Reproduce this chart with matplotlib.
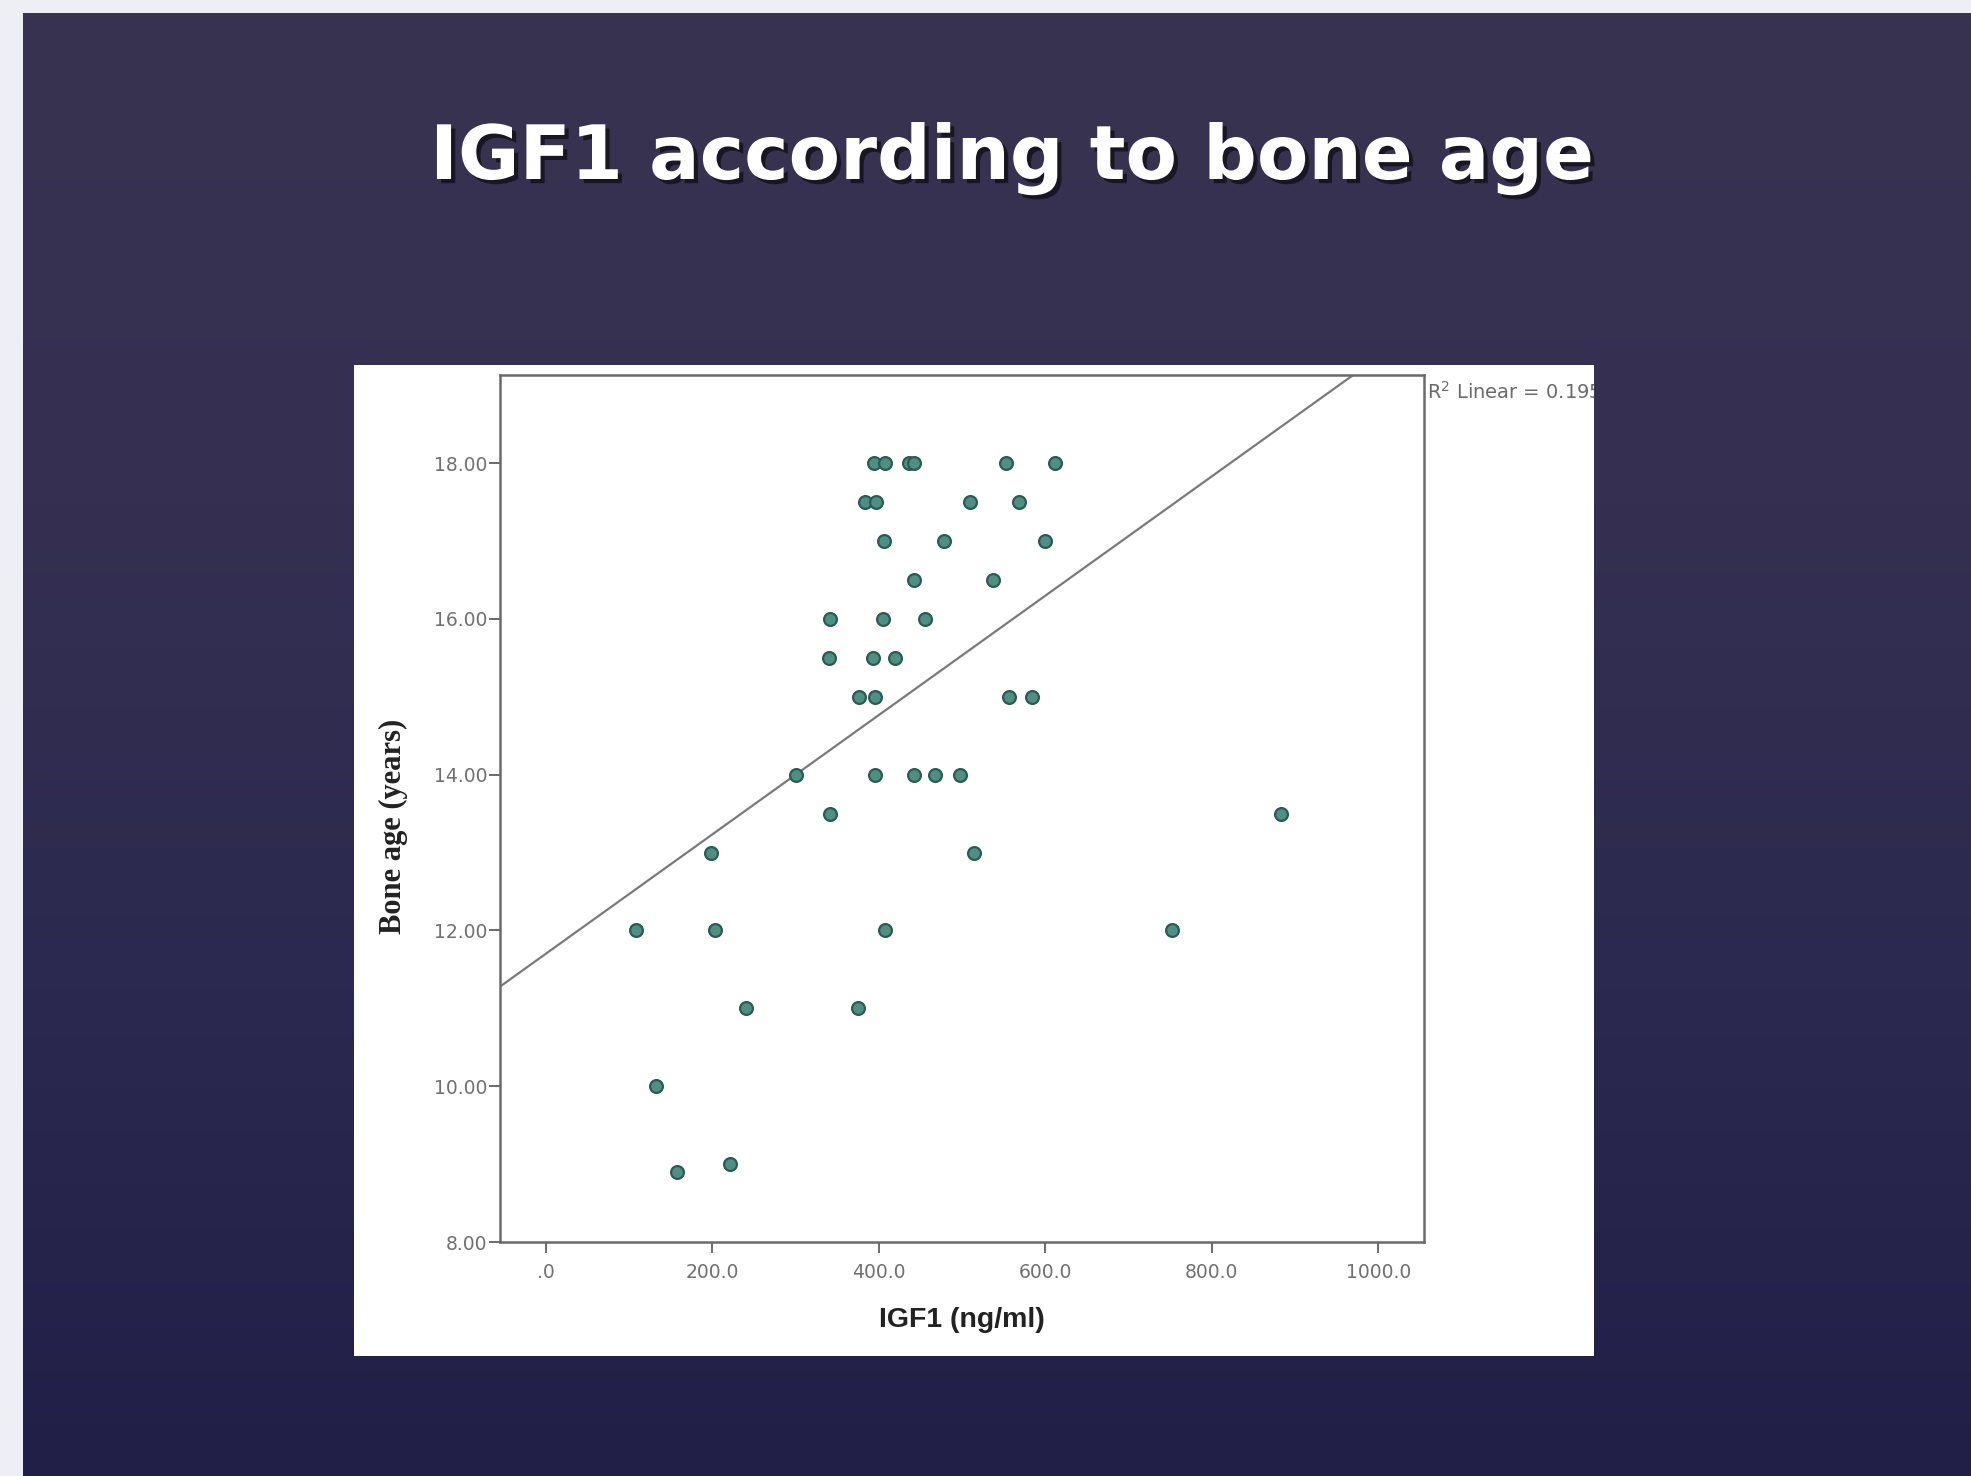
import numpy as np
import matplotlib
matplotlib.use("Agg")
import matplotlib.pyplot as plt
from matplotlib import patheffects
from matplotlib.colors import LinearSegmentedColormap
from matplotlib.patches import Rectangle

# ---------------- data ----------------
title = "IGF1 according to bone age"
x_label = "IGF1 (ng/ml)"
y_label = "Bone age (years)"
r2_label = "R$^2$ Linear = 0.195"

igf1 = [394, 407, 436, 442, 553, 612,
        383, 397, 510, 568,
        406, 478, 600,
        442, 537,
        342, 405, 455,
        340, 393, 420,
        376, 395, 556, 584,
        300, 396, 442, 467, 498,
        342, 883,
        198, 515,
        108, 203, 408, 752,
        241, 375,
        133,
        221,
        158]
bone_age = [18.0, 18.0, 18.0, 18.0, 18.0, 18.0,
            17.5, 17.5, 17.5, 17.5,
            17.0, 17.0, 17.0,
            16.5, 16.5,
            16.0, 16.0, 16.0,
            15.5, 15.5, 15.5,
            15.0, 15.0, 15.0, 15.0,
            14.0, 14.0, 14.0, 14.0, 14.0,
            13.5, 13.5,
            13.0, 13.0,
            12.0, 12.0, 12.0, 12.0,
            11.0, 11.0,
            10.0,
            9.0,
            8.9]

fit_intercept = 11.70
fit_slope = 0.00766

x_ticks = [0, 200, 400, 600, 800, 1000]
x_tick_labels = [".0", "200.0", "400.0", "600.0", "800.0", "1000.0"]
y_ticks = [8, 10, 12, 14, 16, 18]
y_tick_labels = ["8.00", "10.00", "12.00", "14.00", "16.00", "18.00"]

# ---------------- figure ----------------
W, H = 1971, 1476
fig = plt.figure(figsize=(W / 100, H / 100), dpi=100, facecolor="#eeeff5")

# slide background (gradient)
bg = fig.add_axes([23 / W, 0, 1 - 23 / W, 1 - 13 / H])
bg.set_axis_off()
cmap = LinearSegmentedColormap.from_list(
    "slide", ["#38334f", "#353052", "#2b294f", "#211f47"])
grad = np.linspace(0, 1, 256).reshape(-1, 1)
bg.imshow(grad, aspect="auto", cmap=cmap, extent=[0, 1, 0, 1], origin="upper")
bg.set_xlim(0, 1)
bg.set_ylim(0, 1)

# title
fig.text(1012 / W, 1 - 179 / H, title, ha="center", va="baseline",
         color="white", fontsize=54, fontweight="bold",
         family=["DejaVu Sans"],
         path_effects=[patheffects.withSimplePatchShadow(
             offset=(3, -3), shadow_rgbFace="black", alpha=0.55)])

# white chart panel
pl, pr, pt, pb = 354, 1594, 365, 1356
panel = Rectangle((pl / W, 1 - pb / H), (pr - pl) / W, (pb - pt) / H,
                  transform=fig.transFigure, facecolor="white",
                  edgecolor="none", zorder=1)
fig.patches.append(panel)

# plotting axes
al, ar, at, ab = 500, 1424, 375, 1242
ax = fig.add_axes([al / W, 1 - ab / H, (ar - al) / W, (ab - at) / H])
ax.set_facecolor("white")
ax.set_zorder(2)

ax.scatter(igf1, bone_age, s=85, facecolor="#4f8f82", edgecolor="#2c5a54",
           linewidth=1.6, zorder=3)
ax.axline((0, fit_intercept), slope=fit_slope, color="#7a7a7a",
          linewidth=1.6, zorder=2)

ax.set_xlim(-55, 1055)
ax.set_ylim(8, 19.13)
ax.set_xticks(x_ticks)
ax.set_xticklabels(x_tick_labels)
ax.set_yticks(y_ticks)
ax.set_yticklabels(y_tick_labels)

for sp in ax.spines.values():
    sp.set_color("#6a6a6a")
    sp.set_linewidth(1.8)

ax.tick_params(axis="both", direction="out", length=8, width=1.4,
               color="#6a6a6a", labelcolor="#707070", labelsize=13.5)
ax.tick_params(axis="y", pad=1)
ax.tick_params(axis="x", pad=7)
for lab in ax.get_xticklabels() + ax.get_yticklabels():
    lab.set_family(["DejaVu Sans"])

ax.set_xlabel(x_label, fontsize=20.5, fontweight="bold", color="#222222",
              family=["Liberation Sans", "DejaVu Sans"], labelpad=18)
ax.set_ylabel(y_label, fontsize=22, fontweight="bold", color="#222222",
              family=["Liberation Serif", "DejaVu Serif"], va="center")
ax.yaxis.set_label_coords((393 - al) / (ar - al), (ab - 826) / (ab - at))

# R^2 annotation, clipped to the white panel
r2 = fig.text(1427 / W, 1 - 392 / H, r2_label, ha="left", va="center",
              fontsize=14, color="#6a6a6a",
              family=["DejaVu Sans"], zorder=5)
r2.set_clip_path(panel)

fig.savefig("out.png", dpi=100, facecolor=fig.get_facecolor())
